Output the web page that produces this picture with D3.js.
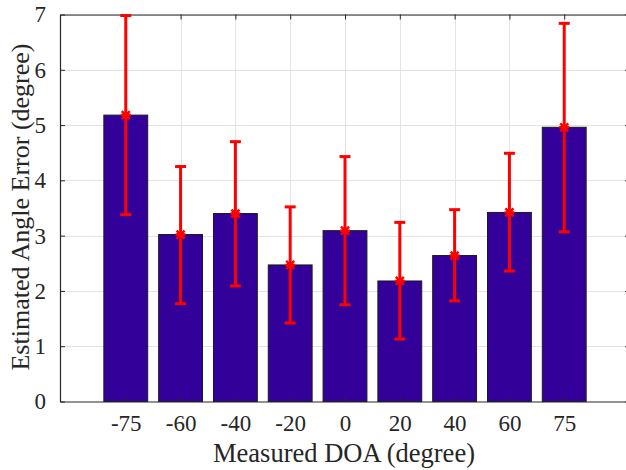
<!DOCTYPE html>
<html>
<head>
<meta charset="utf-8">
<script src="https://cdn.jsdelivr.net/npm/d3@7"></script>
<style>
  html, body { margin: 0; padding: 0; background: #fff; }
  svg { display: block; }
  text { font-family: "Liberation Serif", "Times New Roman", serif; fill: #262626; }
</style>
</head>
<body>
<svg id="chart" width="626" height="470"></svg>
<script>
// ---- data ----
const categories = ["-75", "-60", "-40", "-20", "0", "20", "40", "60", "75"];
const meanError  = [5.18, 3.02, 3.40, 2.47, 3.09, 2.18, 2.64, 3.42, 4.96];
const upperError = [6.98, 4.25, 4.70, 3.52, 4.43, 3.24, 3.47, 4.49, 6.84];
const lowerError = [3.38, 1.77, 2.09, 1.42, 1.75, 1.13, 1.82, 2.36, 3.07];
const yTicks = [0, 1, 2, 3, 4, 5, 6, 7];
const xLabel = "Measured DOA (degree)";
const yLabel = "Estimated Angle Error (degree)";

// ---- layout ----
const svg = d3.select("#chart");
const pL = 60, pR = 630, pT = 14.5, pB = 401.5;
const axisColor = "#262626";

const x = d3.scaleLinear().domain([-0.2, 10.2]).range([pL, pR]);
const y = d3.scaleLinear().domain([0, 7]).range([pB, pT]);
const pos = categories.map((c, i) => i + 1);
const barW = x(0.8) - x(0);

// grid
const grid = svg.append("g");
grid.selectAll(".hg").data(yTicks.slice(1)).enter().append("line")
  .attr("x1", pL).attr("x2", pR)
  .attr("y1", d => Math.round(y(d)) + 0.5).attr("y2", d => Math.round(y(d)) + 0.5)
  .attr("stroke", "#e3e3e3").attr("stroke-width", 1);
grid.selectAll(".vg").data(pos).enter().append("line")
  .attr("x1", d => Math.round(x(d)) + 0.5).attr("x2", d => Math.round(x(d)) + 0.5)
  .attr("y1", pT).attr("y2", pB)
  .attr("stroke", "#e3e3e3").attr("stroke-width", 1);

// bars
svg.append("g").selectAll("rect").data(meanError).enter().append("rect")
  .attr("x", (d, i) => x(pos[i]) - barW / 2)
  .attr("width", barW)
  .attr("y", d => y(d))
  .attr("height", d => y(0) - y(d))
  .attr("fill", "#330099")
  .attr("stroke", "#1a1a1a").attr("stroke-width", 1);

// axes
const xAxisB = d3.axisBottom(x).tickValues(pos).tickFormat((d, i) => categories[i]).tickSizeInner(-5).tickSizeOuter(0).tickPadding(13);
const xAxisT = d3.axisTop(x).tickValues(pos).tickFormat("").tickSizeInner(-5).tickSizeOuter(0);
const yAxisL = d3.axisLeft(y).tickValues(yTicks).tickFormat(d3.format("d")).tickSizeInner(-5).tickSizeOuter(0).tickPadding(14);
const yAxisR = d3.axisRight(y).tickValues(yTicks).tickFormat("").tickSizeInner(-5).tickSizeOuter(0);

function style(g) {
  g.select(".domain").attr("stroke", axisColor).attr("stroke-width", 1.2);
  g.selectAll(".tick line").attr("stroke", axisColor).attr("stroke-width", 1);
  g.selectAll("text").attr("font-size", 23).attr("fill", axisColor)
    .style("font-family", '"Liberation Serif", "Times New Roman", serif');
}
svg.append("g").attr("transform", `translate(0,${pB})`).call(xAxisB).call(style);
svg.append("g").attr("transform", `translate(0,${pT})`).call(xAxisT).call(style);
svg.append("g").attr("transform", `translate(${pL},0)`).call(yAxisL).call(style);
svg.append("g").attr("transform", `translate(${pR},0)`).call(yAxisR).call(style);

// error bars
const eb = svg.append("g");
const capW = 5.5;
pos.forEach((p, i) => {
  const cx = x(p);
  const g = eb.append("g").attr("stroke", "#ff0000").attr("stroke-width", 3).attr("fill", "none");
  g.append("line").attr("x1", cx).attr("x2", cx).attr("y1", y(lowerError[i])).attr("y2", y(upperError[i]));
  g.append("line").attr("x1", cx - capW).attr("x2", cx + capW).attr("y1", y(lowerError[i])).attr("y2", y(lowerError[i]));
  g.append("line").attr("x1", cx - capW).attr("x2", cx + capW).attr("y1", y(upperError[i])).attr("y2", y(upperError[i]));
  const my = y(meanError[i]);
  g.append("path")
    .attr("d", `M${cx - 4},${my - 4}L${cx + 4},${my + 4}M${cx - 4},${my + 4}L${cx + 4},${my - 4}M${cx - 5},${my}L${cx + 5},${my}`)
    .attr("stroke-width", 2.5);
});

// labels
svg.append("text").attr("x", 344).attr("y", 462).attr("text-anchor", "middle")
  .attr("font-size", 26.5).text(xLabel);
svg.append("text").attr("transform", "translate(29,207) rotate(-90)").attr("text-anchor", "middle")
  .attr("font-size", 26).text(yLabel);
</script>
</body>
</html>
